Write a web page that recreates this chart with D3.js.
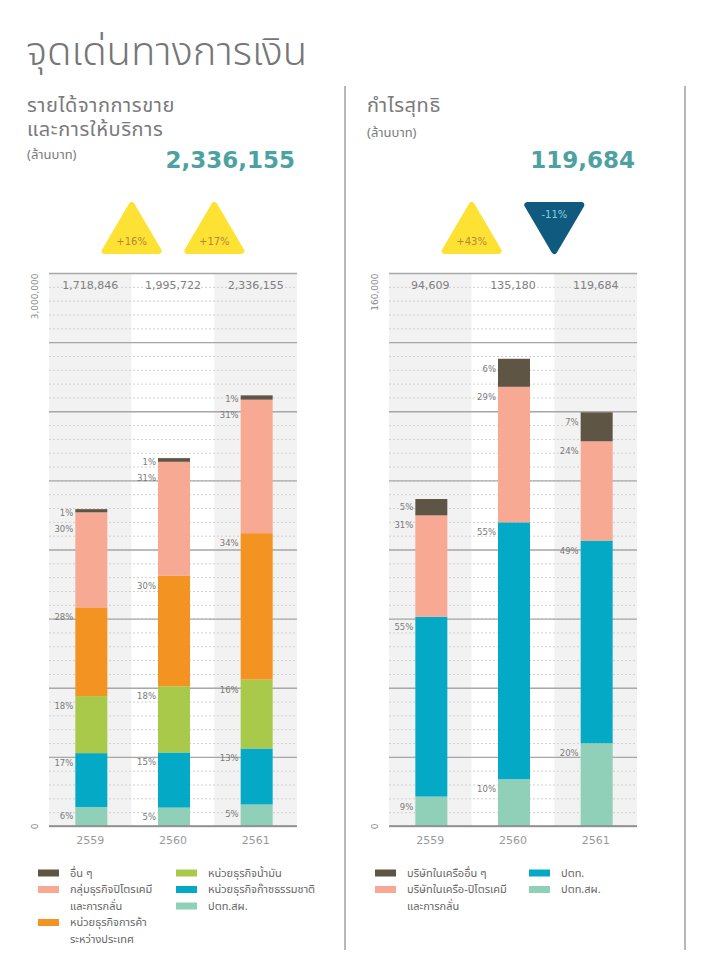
<!DOCTYPE html>
<html>
<head>
<meta charset="utf-8">
<script src="https://cdn.jsdelivr.net/npm/d3@7"></script>
<style>
  body { margin: 0; background: #fff; }
  svg text { font-family: 'DejaVu Sans', 'Noto Sans', sans-serif; }
  .thai { font-family: 'Noto Sans Thai', 'Noto Sans', 'DejaVu Sans', sans-serif; }
  .head { font-family: 'DejaVu Sans', 'Noto Sans Thai', sans-serif; }
</style>
</head>
<body>
<div id="chart"></div>
<script>
// years shown on both charts
const years = ['2559', '2560', '2561'];

// sales revenue (million baht), total per year
const revTotals = [1718846, 1995722, 2336155];
// share of each business, bottom to top, one row per year (%)
const revKeys = ['ep', 'gas', 'oil', 'trade', 'petro', 'other'];
const revShares = [
  [6, 17, 18, 28, 30, 1],
  [5, 15, 18, 30, 31, 1],
  [5, 13, 16, 34, 31, 1],
];
const revGrowth = ['+16%', '+17%'];

// net profit (million baht)
const netTotals = [94609, 135180, 119684];
const netKeys = ['ep', 'ptt', 'petro', 'other'];
const netShares = [
  [9, 55, 31, 5],
  [10, 55, 29, 6],
  [20, 49, 24, 7],
];
const netGrowth = ['+43%', '-11%'];

const colors = {
  other: '#5e5545',
  petro: '#f7a994',
  trade: '#f39422',
  oil: '#a9c94a',
  gas: '#04aac5',
  ptt: '#04aac5',
  ep: '#90d0b8',
};

const revLegend = [
  ['other', ['อื่น ๆ']],
  ['petro', ['กลุ่มธุรกิจปิโตรเคมี', 'และการกลั่น']],
  ['trade', ['หน่วยธุรกิจการค้า', 'ระหว่างประเทศ']],
  ['oil', ['หน่วยธุรกิจน้ำมัน']],
  ['gas', ['หน่วยธุรกิจก๊าซธรรมชาติ']],
  ['ep', ['ปตท.สผ.']],
];
const netLegend = [
  ['other', ['บริษัทในเครืออื่น ๆ']],
  ['petro', ['บริษัทในเครือ-ปิโตรเคมี', 'และการกลั่น']],
  ['ptt', ['ปตท.']],
  ['ep', ['ปตท.สผ.']],
];

const W = 722;
const H = 964;

const svg = d3.select('#chart')
  .append('svg')
  .attr('width', W)
  .attr('height', H);

// page title
svg.append('text')
  .attr('class', 'thai')
  .attr('x', 26)
  .attr('y', 65)
  .attr('fill', '#767676')
  .style('font-size', '40px')
  .style('font-weight', 300)
  .text('จุดเด่นทางการเงิน');

// divider lines
[345, 685].forEach((x) => {
  svg.append('line')
    .attr('x1', x).attr('x2', x)
    .attr('y1', 86).attr('y2', 950)
    .attr('stroke', '#a0a0a0')
    .attr('stroke-width', 1.5);
});

const drawPanel = (cfg) => {
  const { x0, x1, yTop, yBottom, max, maxLabel, totals, shares, keys, growth } = cfg;

  const x = d3.scaleBand()
    .domain(years)
    .range([x0, x1]);

  const y = d3.scaleLinear()
    .domain([0, max])
    .range([yBottom, yTop]);

  const g = svg.append('g');

  // alternating column backgrounds
  g.selectAll('.colbg')
    .data(years)
    .enter()
    .append('rect')
    .attr('x', (d) => x(d))
    .attr('y', yTop)
    .attr('width', x.bandwidth())
    .attr('height', yBottom - yTop)
    .attr('fill', (d, i) => (i % 2 === 0 ? '#f2f2f3' : '#fff'));

  // minor grid
  const minor = g.append('g')
    .attr('transform', `translate(${x0},0)`)
    .call(d3.axisLeft(y)
      .tickValues(d3.range(0, max + 1, max / 40))
      .tickSize(-(x1 - x0))
      .tickFormat(''));
  minor.select('.domain').remove();
  minor.selectAll('line')
    .attr('stroke', '#d0d0d0')
    .attr('stroke-dasharray', '2,2');

  // major grid
  const major = g.append('g')
    .attr('transform', `translate(${x0},0)`)
    .call(d3.axisLeft(y)
      .tickValues(d3.range(0, max + 1, max / 8))
      .tickSize(-(x1 - x0))
      .tickFormat(''));
  major.select('.domain').remove();
  major.selectAll('line')
    .attr('stroke', '#a8a8a8')
    .attr('stroke-width', 1.3);

  // y axis labels, rotated
  const yAxis = g.append('g')
    .attr('transform', `translate(${x0},0)`)
    .call(d3.axisLeft(y)
      .tickValues([0, max])
      .tickSize(0)
      .tickFormat((d) => (d === 0 ? '0' : maxLabel)));
  yAxis.select('.domain').remove();
  yAxis.selectAll('text')
    .attr('transform', 'rotate(-90)')
    .attr('x', 0)
    .attr('y', -11)
    .attr('dy', 0)
    .attr('text-anchor', (d) => (d === 0 ? 'middle' : 'end'))
    .attr('fill', '#888')
    .style('font-size', '9px');

  // stacked data
  const rows = years.map((yr, i) => {
    const r = { year: yr };
    keys.forEach((k, j) => { r[k] = totals[i] * shares[i][j] / 100; });
    return r;
  });
  const series = d3.stack().keys(keys)(rows);

  const barW = 32;
  const barX = (yr) => x(yr) + x.bandwidth() / 2 - barW / 2 + 1;

  g.selectAll('.layer')
    .data(series)
    .enter()
    .append('g')
    .attr('fill', (s) => colors[s.key])
    .selectAll('rect')
    .data((s) => s)
    .enter()
    .append('rect')
    .attr('x', (d) => barX(d.data.year))
    .attr('y', (d) => y(d[1]))
    .attr('width', barW)
    .attr('height', (d) => y(d[0]) - y(d[1]));

  // percent labels, top segment first, pushed down if they collide
  years.forEach((yr, i) => {
    let prev = -Infinity;
    for (let j = keys.length - 1; j >= 0; j -= 1) {
      const seg = series[j][i];
      const top = y(seg[1]);
      const h = y(seg[0]) - top;
      let cy = top + Math.max(4, Math.min(h / 2, 10));
      cy = Math.max(cy, prev + 16);
      prev = cy;
      g.append('text')
        .attr('x', barX(yr) - 2)
        .attr('y', cy)
        .attr('dy', '0.35em')
        .attr('text-anchor', 'end')
        .attr('fill', '#7a7a7a')
        .style('font-size', '8.5px')
        .text(`${shares[i][j]}%`);
    }
  });

  // totals row at the top
  g.selectAll('.total')
    .data(totals)
    .enter()
    .append('text')
    .attr('x', (d, i) => x(years[i]) + x.bandwidth() / 2)
    .attr('y', yTop + 16)
    .attr('text-anchor', 'middle')
    .attr('fill', '#808080')
    .style('font-size', '11px')
    .text((d) => d3.format(',')(d));

  // baseline
  g.append('line')
    .attr('x1', x0).attr('x2', x1)
    .attr('y1', yBottom).attr('y2', yBottom)
    .attr('stroke', '#8a8a8a')
    .attr('stroke-width', 1.3);

  // x axis
  const xAxis = g.append('g')
    .attr('transform', `translate(0,${yBottom})`)
    .call(d3.axisBottom(x).tickSize(0).tickPadding(10));
  xAxis.select('.domain').remove();
  xAxis.selectAll('text')
    .attr('fill', '#999')
    .style('font-size', '11px');

  // growth triangles between the columns
  growth.forEach((txt, i) => {
    const cx = x(years[i + 1]);
    const up = txt[0] === '+';
    const t = 202;
    const b = 254;
    const hw = 30;
    const pts = up
      ? [[cx, t + 3], [cx + hw - 3, b - 3], [cx - hw + 3, b - 3]]
      : [[cx - hw + 3, t + 3], [cx + hw - 3, t + 3], [cx, b - 3]];
    const fill = up ? '#fde234' : '#0f5a7e';
    svg.append('path')
      .attr('d', `M${pts.map((p) => p.join(',')).join('L')}Z`)
      .attr('fill', fill)
      .attr('stroke', fill)
      .attr('stroke-width', 6)
      .attr('stroke-linejoin', 'round');
    svg.append('text')
      .attr('x', cx)
      .attr('y', up ? b - 9 : t + 16)
      .attr('text-anchor', 'middle')
      .attr('fill', up ? '#b8843e' : '#8ad0d6')
      .style('font-size', '10px')
      .text(txt);
  });
};

const drawLegend = (items, x, y, colX) => {
  const lh = 16.5;
  items.forEach((it, k) => {
    const [key, lines] = it;
    const col = k < colX.split ? 0 : 1;
    let row = 0;
    for (let m = (col === 0 ? 0 : colX.split); m < k; m += 1) row += items[m][1].length;
    const lx = col === 0 ? x : colX.x;
    const ly = y + row * lh;
    svg.append('rect')
      .attr('x', lx)
      .attr('y', ly - 3.5)
      .attr('width', 21)
      .attr('height', 7)
      .attr('fill', colors[key]);
    lines.forEach((ln, n) => {
      svg.append('text')
        .attr('class', 'thai')
        .attr('x', lx + 32)
        .attr('y', ly + n * lh)
        .attr('dy', '0.35em')
        .attr('fill', '#666')
        .style('font-size', '11px')
        .text(ln);
    });
  });
};

// panel headings: title lines in one text block, then the unit
const heading = (x, lines, y0, unitY, numX, num) => {
  const t = svg.append('text')
    .attr('class', 'head')
    .attr('x', x)
    .attr('y', y0)
    .attr('fill', '#7a7a7a')
    .style('font-size', '20px')
    .style('letter-spacing', '0.6px');
  lines.forEach((ln, i) => {
    t.append('tspan')
      .attr('x', x)
      .attr('dy', i === 0 ? 0 : 24)
      .text(ln);
  });
  svg.append('text')
    .attr('class', 'thai')
    .attr('x', x)
    .attr('y', unitY)
    .attr('fill', '#7a7a7a')
    .style('font-size', '13px')
    .text('(ล้านบาท)');
  svg.append('text')
    .attr('x', numX)
    .attr('y', 168)
    .attr('text-anchor', 'end')
    .attr('fill', '#4ca2a2')
    .style('font-size', '23px')
    .style('font-weight', 'bold')
    .text(d3.format(',')(num));
};

heading(27, ['รายได้จากการขาย', 'และการให้บริการ'], 112, 159, 295, revTotals[revTotals.length - 1]);
heading(367, ['กำไรสุทธิ'], 112, 137, 635, netTotals[netTotals.length - 1]);

drawPanel({
  x0: 49, x1: 297, yTop: 273, yBottom: 826,
  max: 3000000, maxLabel: '3,000,000',
  totals: revTotals, shares: revShares, keys: revKeys, growth: revGrowth,
});

drawPanel({
  x0: 389, x1: 637, yTop: 273, yBottom: 826,
  max: 160000, maxLabel: '160,000',
  totals: netTotals, shares: netShares, keys: netKeys, growth: netGrowth,
});

drawLegend(revLegend, 38, 873, { split: 3, x: 176 });
drawLegend(netLegend, 375, 873, { split: 2, x: 529 });
</script>
</body>
</html>
